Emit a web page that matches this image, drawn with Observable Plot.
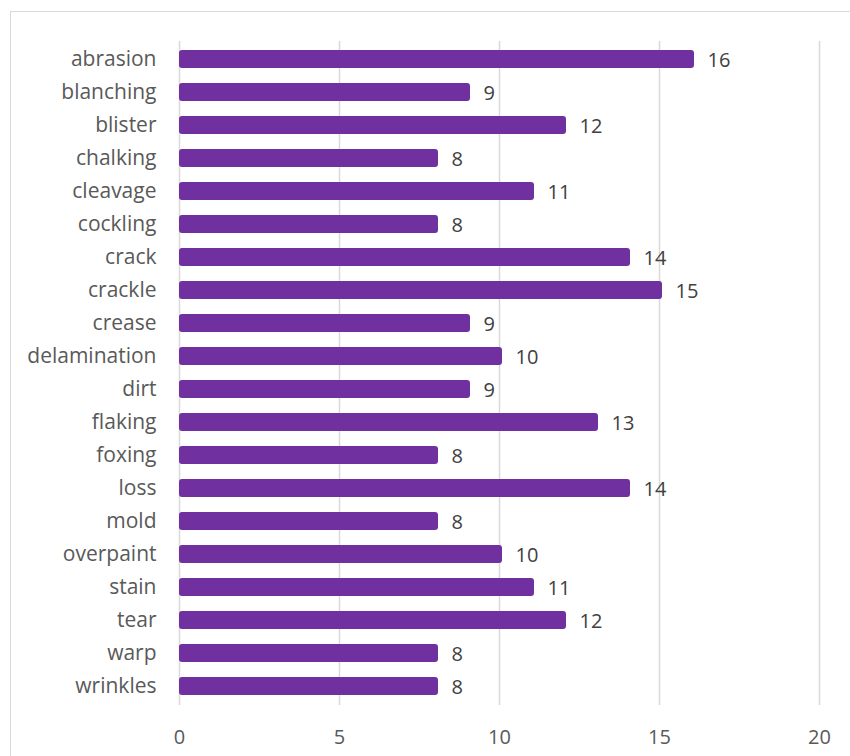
<!DOCTYPE html>
<html>
<head>
<meta charset="utf-8">
<script src="https://cdn.jsdelivr.net/npm/d3@7"></script>
<script src="https://cdn.jsdelivr.net/npm/@observablehq/plot@0.6"></script>
<style>
  html, body { margin: 0; padding: 0; background: #fff; overflow: hidden; }
  #wrap { position: relative; width: 850px; height: 756px; }
  #border { position: absolute; left: 10px; top: 11px; width: 900px; height: 800px; border: 1px solid #d9d9d9; box-sizing: border-box; pointer-events: none; }
  #chart { position: absolute; left: 0; top: 0; }
</style>
</head>
<body>
<div id="wrap"><div id="chart"></div><div id="border"></div></div>
<script>
const categories = ["abrasion","blanching","blister","chalking","cleavage","cockling","crack","crackle","crease","delamination","dirt","flaking","foxing","loss","mold","overpaint","stain","tear","warp","wrinkles"];
const counts = [16,9,12,8,11,8,14,15,9,10,9,13,8,14,8,10,11,12,8,8];
const xTicks = [0,5,10,15,20];

const data = categories.map((c, i) => ({category: c, count: counts[i]}));
const font = "Open Sans, Liberation Sans, sans-serif";

const chart = Plot.plot({
  width: 850,
  height: 756,
  marginLeft: 179,
  marginRight: 31,
  marginTop: 41,
  marginBottom: 51,
  style: {fontFamily: font, fontSize: "21px", color: "#595959", background: "transparent"},
  x: {domain: [0, 20], ticks: xTicks},
  y: {domain: categories, paddingInner: 0.45, paddingOuter: 0.225, align: 0.5},
  marks: [
    Plot.gridX(xTicks, {stroke: "#d9d9d9", strokeOpacity: 1, strokeWidth: 1.5}),
    Plot.barX(data, {x: "count", y: "category", fill: "#7030A0", insetRight: -3, rx: 3}),
    Plot.text(data, {x: "count", y: "category", text: d => String(d.count), textAnchor: "start", dx: 16, dy: 1, fill: "#404040", fontSize: 20}),
    Plot.axisY({tickSize: 0, tickPadding: 23, label: null, fill: "#595959", fontSize: 21}),
    Plot.axisX(xTicks, {tickSize: 0, tickPadding: 24, label: null, fill: "#595959", fontSize: 20})
  ]
});
document.getElementById("chart").appendChild(chart);
</script>
</body>
</html>
